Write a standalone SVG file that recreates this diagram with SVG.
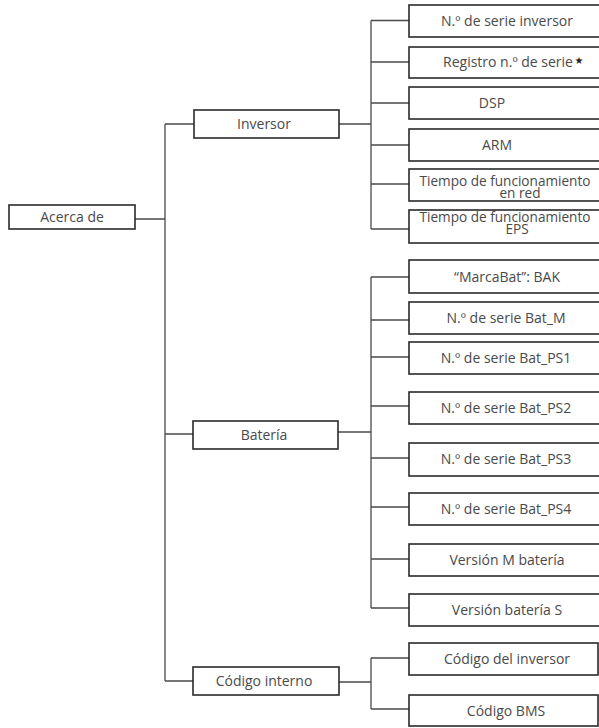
<svg xmlns="http://www.w3.org/2000/svg" width="599" height="728" viewBox="0 0 599 728">
<style>
.box{fill:#fff;stroke:#2a2a2a;stroke-width:1.6}
.ln{fill:none;stroke:#4a4a4a;stroke-width:1.3}
text{font-family:"Open Sans","DejaVu Sans",sans-serif;font-size:14px;fill:#4a4a4a;text-anchor:middle}
.tight{font-size:13.6px}
</style>
<rect width="599" height="728" fill="#fff"/>
<g id="connectors">
<path class="ln" d="M135,219H165M165,124V681M165,124H194M165,434H193M165,681H193"/>
<path class="ln" d="M339,124H371M371,20.5V229M371,20.5H409M371,62H409M371,103H409M371,145H409M371,184H409M371,229H409"/>
<path class="ln" d="M338,432H371M371,277V608M371,277H409M371,320H409M371,357H409M371,406H409M371,458H409M371,507H409M371,559H409M371,608H409"/>
<path class="ln" d="M339,682H371M371,658V709M371,658H409M371,709H409"/>
</g>
<g id="acerca"><rect class="box" x="9" y="205" width="126" height="24"/><text x="72" y="222">Acerca de</text></g>
<g id="inversor"><rect class="box" x="194" y="110" width="145" height="28"/><text x="264" y="129">Inversor</text></g>
<g id="bateria"><rect class="box" x="193" y="421" width="145" height="28"/><text x="264" y="440">Batería</text></g>
<g id="codigo"><rect class="box" x="193" y="667" width="146" height="28"/><text x="264" y="686">Código interno</text></g>
<g id="n-inv"><rect class="box" x="409" y="5" width="194" height="32"/><text x="507" y="26">N.º de serie inversor</text></g>
<g id="registro"><rect class="box" x="409" y="47" width="194" height="31"/><text x="508" y="67">Registro n.º de serie</text><text x="579" y="64" style="font-family:'DejaVu Sans',sans-serif;font-size:10px;fill:#222">★</text></g>
<g id="dsp"><rect class="box" x="409" y="87" width="194" height="32"/><text x="492" y="108">DSP</text></g>
<g id="arm"><rect class="box" x="409" y="129" width="194" height="32"/><text x="497" y="150">ARM</text></g>
<g id="t-red"><rect class="box" x="409" y="169" width="194" height="32"/><text class="tight" x="505" y="186">Tiempo de funcionamiento</text><text class="tight" x="520" y="198">en red</text></g>
<g id="t-eps"><rect class="box" x="409" y="210" width="194" height="33"/><text class="tight" x="505" y="222">Tiempo de funcionamiento</text><text class="tight" x="517" y="234">EPS</text></g>
<g id="marca"><rect class="box" x="409" y="260" width="194" height="33"/><text x="507" y="282">“MarcaBat”: BAK</text></g>
<g id="bat-m"><rect class="box" x="409" y="302" width="194" height="32"/><text x="506" y="323">N.º de serie Bat_M</text></g>
<g id="ps1"><rect class="box" x="409" y="342" width="194" height="32"/><text x="506" y="363">N.º de serie Bat_PS1</text></g>
<g id="ps2"><rect class="box" x="409" y="392" width="194" height="32"/><text x="506" y="413">N.º de serie Bat_PS2</text></g>
<g id="ps3"><rect class="box" x="409" y="443" width="194" height="33"/><text x="506" y="464">N.º de serie Bat_PS3</text></g>
<g id="ps4"><rect class="box" x="409" y="493" width="194" height="32"/><text x="506" y="514">N.º de serie Bat_PS4</text></g>
<g id="ver-m"><rect class="box" x="409" y="544" width="194" height="32"/><text x="507" y="565">Versión M batería</text></g>
<g id="ver-s"><rect class="box" x="409" y="594" width="194" height="32"/><text x="507" y="615">Versión batería S</text></g>
<g id="cod-inv"><rect class="box" x="409" y="643" width="189" height="32"/><text x="507" y="664">Código del inversor</text></g>
<g id="cod-bms"><rect class="box" x="409" y="695" width="189" height="31"/><text x="506" y="716">Código BMS</text></g>
</svg>
